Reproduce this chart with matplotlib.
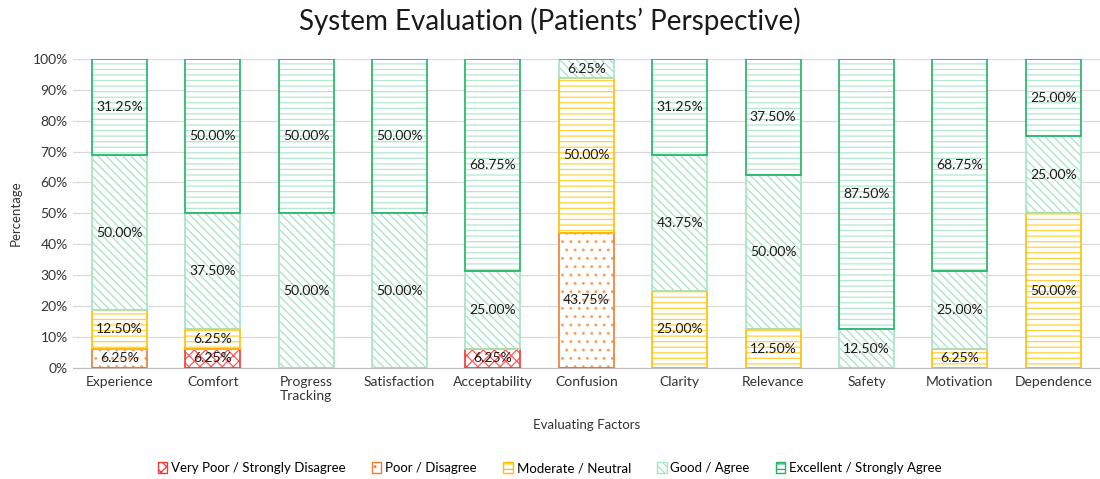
import numpy as np
import matplotlib
matplotlib.use("Agg")
import matplotlib.pyplot as plt
from matplotlib.patches import Patch
from matplotlib.ticker import PercentFormatter

plt.rcParams['font.family'] = ['Lato', 'DejaVu Sans']
plt.rcParams['hatch.linewidth'] = 0.9

factors = ["Experience", "Comfort", "Progress\nTracking", "Satisfaction", "Acceptability",
           "Confusion", "Clarity", "Relevance", "Safety", "Motivation", "Dependence"]

very_poor = [0, 6.25, 0, 0, 6.25, 0, 0, 0, 0, 0, 0]
poor = [6.25, 0, 0, 0, 0, 43.75, 0, 0, 0, 0, 0]
moderate = [12.5, 6.25, 0, 0, 0, 50.0, 25.0, 12.5, 0, 6.25, 50.0]
good = [50.0, 37.5, 50.0, 50.0, 25.0, 6.25, 43.75, 50.0, 12.5, 25.0, 25.0]
excellent = [31.25, 50.0, 50.0, 50.0, 68.75, 0, 31.25, 37.5, 87.5, 68.75, 25.0]

series = [
    ("Very Poor / Strongly Disagree", very_poor, "#FF5B5B", "#F03A3A", "xxx"),
    ("Poor / Disagree", poor, "#F4A15E", "#ED7D31", ".."),
    ("Moderate / Neutral", moderate, "#FFD23F", "#FFC000", "---"),
    ("Good / Agree", good, "#A6E3C6", "#A6E3C6", "\\\\\\\\"),
    ("Excellent / Strongly Agree", excellent, "#B3E8CE", "#1DB462", "---"),
]

fig = plt.figure(figsize=(11, 4.79), dpi=100)
ax = fig.add_axes([0.066, 0.232, 0.934, 0.645])

x = np.arange(len(factors))
width = 0.59
bottom = np.zeros(len(factors))
handles = []
for name, vals, hcol, ecol, hatch in series:
    vals = np.array(vals, dtype=float)
    ax.bar(x, vals, width, bottom=bottom, color="white", edgecolor=hcol,
           hatch=hatch, linewidth=0, zorder=2)
    ax.bar(x, vals, width, bottom=bottom, fill=False, edgecolor=ecol,
           linewidth=1.2, zorder=3)
    for xi, b, v in zip(x, bottom, vals):
        if v > 0:
            ax.text(xi, b + v / 2, f"{v:.2f}%", ha="center", va="center",
                    fontsize=10, color="#1a1a1a", zorder=4)
    bottom += vals
    handles.append(Patch(facecolor="white", edgecolor=ecol, hatch=hatch, linewidth=1))

ax.set_xlim(-0.5, len(factors) - 0.5)
ax.set_ylim(0, 100)
ax.set_yticks(np.arange(0, 101, 10))
ax.yaxis.set_major_formatter(PercentFormatter(decimals=0))
ax.set_xticks(x)
ax.set_xticklabels(factors, fontsize=10, color="#333333")
ax.tick_params(axis="y", labelsize=10, colors="#333333", length=0)
ax.tick_params(axis="x", length=0, pad=6)
ax.grid(axis="y", color="#D9D9D9", linewidth=0.9, zorder=0)
ax.set_axisbelow(True)
for s in ["top", "right", "left"]:
    ax.spines[s].set_visible(False)
ax.spines["bottom"].set_color("#BFBFBF")

ax.set_xlabel("Evaluating Factors", fontsize=9.5, color="#333333", labelpad=12)
ax.set_ylabel("Percentage", fontsize=9.5, color="#333333", labelpad=8)
fig.suptitle("System Evaluation (Patients\u2019 Perspective)", fontsize=20,
             color="#1a1a1a", y=0.985)

fig.legend(handles, [s[0] for s in series], loc="lower center", ncol=5,
           frameon=False, fontsize=9.5, bbox_to_anchor=(0.5, -0.015),
           handlelength=0.7, handleheight=0.9, columnspacing=2.0, handletextpad=0.3)

fig.savefig("out.png", dpi=100)
